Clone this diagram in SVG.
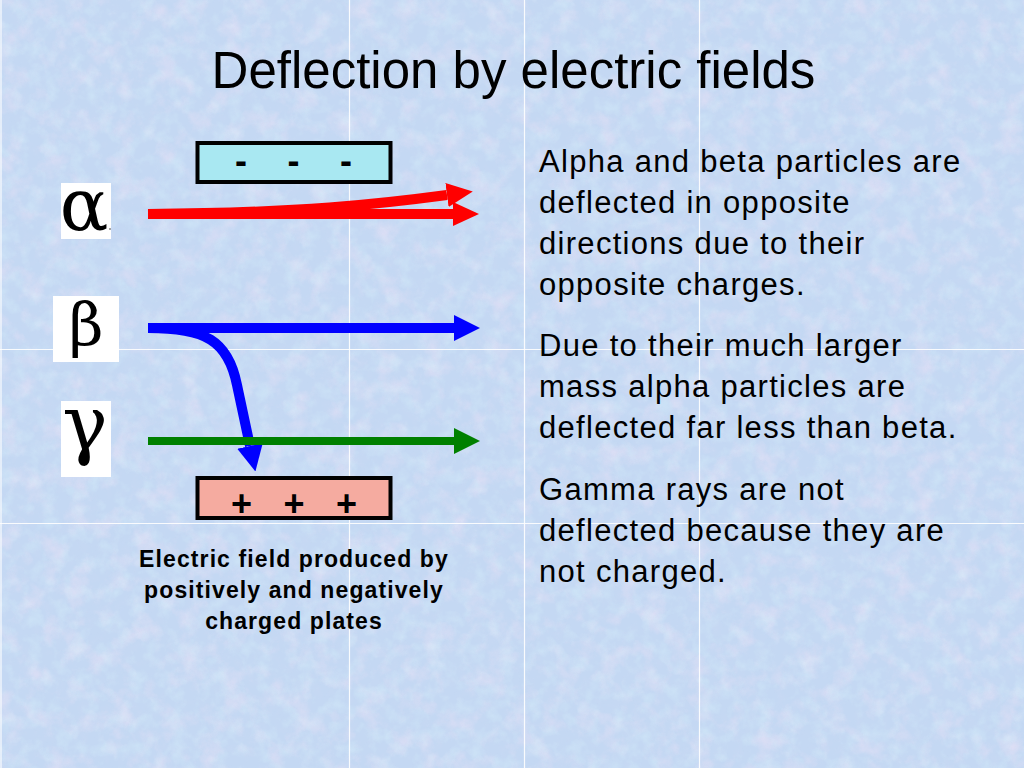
<svg xmlns="http://www.w3.org/2000/svg" width="1024" height="768" viewBox="0 0 1024 768">
<defs>
<style>
.title{font-family:"Liberation Sans",Arial,sans-serif;font-size:51px;fill:#000}
.body{font-family:"Liberation Sans",Arial,sans-serif;font-size:31px;letter-spacing:1.3px;fill:#000}
.cap{font-family:"Liberation Sans",Arial,sans-serif;font-size:23px;font-weight:bold;letter-spacing:1.1px;fill:#000;text-anchor:middle}
.sign{font-family:"Liberation Sans",Arial,sans-serif;font-size:36px;font-weight:bold;fill:#000;text-anchor:middle}
.greek{font-family:"DejaVu Serif","Liberation Serif",serif;fill:#000;text-anchor:middle}
.plate{stroke:#000;stroke-width:4}
.grid{stroke:#ffffff;stroke-width:1.2;opacity:0.9}
.sym{fill:#ffffff}
</style>
<filter id="tex" x="0" y="0" width="1024" height="768" filterUnits="userSpaceOnUse">
<feTurbulence type="fractalNoise" baseFrequency="0.045" numOctaves="4" seed="7" result="n"/>
<feColorMatrix in="n" type="matrix" values="0 0 0 0 0.90  0 0 0 0 0.78  0 0 0 0 0.93  1.8 0 0 0 -0.85"/>
</filter>
<filter id="tex2" x="0" y="0" width="1024" height="768" filterUnits="userSpaceOnUse">
<feTurbulence type="fractalNoise" baseFrequency="0.07" numOctaves="3" seed="2" result="n"/>
<feColorMatrix in="n" type="matrix" values="0 0 0 0 0.70  0 0 0 0 0.90  0 0 0 0 0.97  0 1.6 0 0 -0.7"/>
</filter>
<filter id="tex3" x="0" y="0" width="1024" height="768" filterUnits="userSpaceOnUse">
<feTurbulence type="fractalNoise" baseFrequency="0.09" numOctaves="2" seed="11" result="n"/>
<feColorMatrix in="n" type="matrix" values="0 0 0 0 0.62  0 0 0 0 0.70  0 0 0 0 0.90  0 0 1.6 0 -0.75"/>
</filter>
<marker id="hRed" markerUnits="userSpaceOnUse" viewBox="0 0 26 24" refX="0" refY="12" markerWidth="26" markerHeight="24" orient="auto">
<path d="M0,0 L26,12 L0,24 Z" fill="#ff0000"/>
</marker>
<marker id="hBlue" markerUnits="userSpaceOnUse" viewBox="0 0 26 26" refX="0" refY="13" markerWidth="26" markerHeight="26" orient="auto">
<path d="M0,0 L26,13 L0,26 Z" fill="#0000ff"/>
</marker>
<marker id="hGreen" markerUnits="userSpaceOnUse" viewBox="0 0 26 26" refX="0" refY="13" markerWidth="26" markerHeight="26" orient="auto">
<path d="M0,0 L26,13 L0,26 Z" fill="#008000"/>
</marker>
</defs>

<g id="background">
<rect x="0" y="0" width="1024" height="768" fill="#c4d8f3"/>
<rect x="0" y="0" width="1024" height="768" filter="url(#tex)" opacity="0.6"/>
<rect x="0" y="0" width="1024" height="768" filter="url(#tex2)" opacity="0.5"/>
<rect x="0" y="0" width="1024" height="768" filter="url(#tex3)" opacity="0.35"/>
<line class="grid" x1="349.5" y1="0" x2="349.5" y2="768"/>
<line class="grid" x1="524.5" y1="0" x2="524.5" y2="768"/>
<line class="grid" x1="699.5" y1="0" x2="699.5" y2="768"/>
<line class="grid" x1="0" y1="349.5" x2="1024" y2="349.5"/>
<line class="grid" x1="0" y1="523.5" x2="1024" y2="523.5"/>
<line class="grid" x1="1" y1="0" x2="1" y2="768" opacity="0.5"/>
</g>

<g id="title">
<text class="title" x="513.5" y="88" text-anchor="middle">Deflection by electric fields</text>
</g>

<g id="negative-plate">
<rect class="plate" x="197.5" y="143" width="193" height="39" fill="#a9e8f2"/>
<text class="sign" x="241" y="173">-</text>
<text class="sign" x="293.5" y="173">-</text>
<text class="sign" x="346" y="173">-</text>
</g>

<g id="positive-plate">
<rect class="plate" x="197.5" y="478" width="193" height="40" fill="#f5aba0"/>
<text class="sign" x="241.5" y="516">+</text>
<text class="sign" x="294" y="516">+</text>
<text class="sign" x="346.5" y="516">+</text>
</g>

<g id="alpha-symbol">
<rect class="sym" x="61" y="183" width="50" height="56"/>
<text class="greek" x="84" y="230" font-size="72">α</text>
<circle cx="110" cy="229" r="1" fill="#888"/>
</g>

<g id="beta-symbol">
<rect class="sym" x="53" y="296" width="66" height="66"/>
<text class="greek" x="86" y="346" font-size="60">β</text>
</g>

<g id="gamma-symbol">
<rect class="sym" x="61" y="401" width="50" height="76"/>
<text class="greek" x="85" y="450" font-size="76">γ</text>
</g>

<g id="connectors" fill="none">
<path d="M148,214 L453,214" stroke="#ff0000" stroke-width="10" marker-end="url(#hRed)"/>
<path d="M148,214 C300,213 380,204 447,195" stroke="#ff0000" stroke-width="10" marker-end="url(#hRed)"/>
<path d="M148,328 L454,328" stroke="#0000ff" stroke-width="10" marker-end="url(#hBlue)"/>
<path d="M148,328 C205,328 228,340 237,385 L250,446" stroke="#0000ff" stroke-width="10" marker-end="url(#hBlue)"/>
<path d="M148,441 L454,441" stroke="#008000" stroke-width="8" marker-end="url(#hGreen)"/>
</g>

<g id="caption">
<text class="cap" x="294" y="567">Electric field produced by</text>
<text class="cap" x="294" y="598">positively and negatively</text>
<text class="cap" x="294" y="629">charged plates</text>
</g>

<g id="explanation">
<text class="body" x="539" y="172">Alpha and beta particles are</text>
<text class="body" x="539" y="213">deflected in opposite</text>
<text class="body" x="539" y="254">directions due to their</text>
<text class="body" x="539" y="295">opposite charges.</text>
<text class="body" x="539" y="356">Due to their much larger</text>
<text class="body" x="539" y="397">mass alpha particles are</text>
<text class="body" x="539" y="438">deflected far less than beta.</text>
<text class="body" x="539" y="500">Gamma rays are not</text>
<text class="body" x="539" y="541">deflected because they are</text>
<text class="body" x="539" y="582">not charged.</text>
</g>
</svg>
